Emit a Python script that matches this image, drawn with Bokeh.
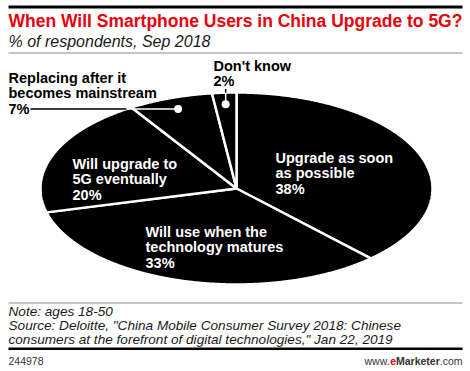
import numpy as np
from bokeh.plotting import figure
from bokeh.models import Range1d
from bokeh.core.properties import value
from bokeh.embed import file_html
from bokeh.resources import INLINE

# ---- data ----
categories = ["Upgrade as soon as possible", "Will use when the technology matures",
              "Will upgrade to 5G eventually", "Replacing after it becomes mainstream",
              "Don't know"]
values = [38, 33, 20, 7, 2]
label_lines = [["Upgrade as soon", "as possible"],
               ["Will use when the", "technology matures"],
               ["Will upgrade to", "5G eventually"],
               ["Replacing after it", "becomes mainstream"],
               ["Don't know"]]

title = "When Will Smartphone Users in China Upgrade to 5G?"
subtitle = "% of respondents, Sep 2018"
notes = ["Note: ages 18-50",
         "Source: Deloitte, \"China Mobile Consumer Survey 2018: Chinese",
         "consumers at the forefront of digital technologies,\" Jan 22, 2019"]
chart_id = "244978"

# ---- layout (pixel-like data space, y down) ----
W, H = 470, 371
L, R = 8, 462
cx, cy, rx, ry = 236, 188, 196, 96
# left x, first-line center y for each label
label_pos = [(275, 157), (145, 231), (72, 163), (8, 77), (213, 65)]
label_inside = [True, True, True, False, False]
LH = 15.5
LSIZE = 14.5
FONT = value("Liberation Sans")

p = figure(width=W, height=H, output_backend="svg", toolbar_location=None,
           x_range=Range1d(0, W), y_range=Range1d(H, 0),
           min_border=0, outline_line_color=None)
p.axis.visible = False
p.grid.visible = False
p.background_fill_color = "white"
p.border_fill_color = "white"

# ---- pie (ellipse) ----
total = sum(values)
cum = np.concatenate([[0], np.cumsum(values)]) / total
xs, ys, mids = [], [], []
for i in range(len(values)):
    a0, a1 = cum[i] * 2 * np.pi, cum[i + 1] * 2 * np.pi
    t = np.linspace(a0, a1, max(8, int(200 * (a1 - a0))))
    xs.append(list(np.concatenate([[cx], cx + rx * np.sin(t)])))
    ys.append(list(np.concatenate([[cy], cy - ry * np.cos(t)])))
    mids.append((a0 + a1) / 2)
p.patches(xs, ys, fill_color="black", line_color="white", line_width=2.5)

def txt(x, y, s, size, color="black", style="bold", align="left"):
    p.text(x=[x], y=[y], text=[s], text_font=FONT, text_font_size=f"{size}px",
           text_font_style=style, text_color=color, text_align=align,
           text_baseline="middle")

# labels
for i, cat in enumerate(categories):
    lx, ly = label_pos[i]
    col = "white" if label_inside[i] else "black"
    lines = label_lines[i] + [f"{values[i]}%"]
    for k, s in enumerate(lines):
        txt(lx, ly + k * LH, s, LSIZE, col)

# leaders for small outside slices
r_dot = 0.88
# 7% : horizontal leader
i = 3
dx, dy = cx + rx * r_dot * np.sin(mids[i]), cy - ry * r_dot * np.cos(mids[i])
edge_x = cx - rx * np.sqrt(1 - ((dy - cy) / ry) ** 2)
p.line([30, edge_x], [dy, dy], line_color="black", line_width=1.5)
p.line([edge_x, dx], [dy, dy], line_color="white", line_width=1.5)
p.scatter([dx], [dy], size=8, fill_color="white", line_color=None)
# 2% : vertical leader
i = 4
dx, dy = cx + rx * r_dot * np.sin(mids[i]), cy - ry * r_dot * np.cos(mids[i])
edge_y = cy - ry * np.sqrt(1 - ((dx - cx) / rx) ** 2)
top_y = label_pos[i][1] + LH + 8
p.line([dx, dx], [top_y, edge_y], line_color="black", line_width=1.5)
p.line([dx, dx], [edge_y, dy], line_color="white", line_width=1.5)
p.scatter([dx], [dy], size=8, fill_color="white", line_color=None)

# ---- header ----
p.quad(left=[L], right=[R], top=[5], bottom=[8], fill_color="black", line_color=None)
txt(L, 20, title, 17.5, "#e8000b", "bold")
txt(L, 41, subtitle, 16, "#1a1a1a", "italic")
p.line([L, R], [52.5, 52.5], line_color="#8c8c8c", line_width=1)

# ---- footer ----
p.line([L, R], [302.5, 302.5], line_color="#8c8c8c", line_width=1)
for k, s in enumerate(notes):
    txt(L, 311 + k * 14, s, 13.6, "#1a1a1a", "italic")
p.quad(left=[L], right=[R], top=[347], bottom=[349.5], fill_color="black", line_color=None)
FS = 10.5
txt(L, 360, chart_id, FS, "#333333", "normal")
# brand, pieces laid out right-to-left with Arial-compatible advance widths
pieces = [("www.", "normal", "#333333", 2.444),
          ("e", "bold", "#e8000b", 0.556),
          ("Marketer", "bold", "#333333", 4.168),
          (".com", "normal", "#333333", 2.167)]
x_end = R
for s, style, col, em in reversed(pieces):
    x_start = x_end - em * FS
    txt(x_start, 360, s, FS, col, style)
    x_end = x_start

open("out.html", "w").write(file_html(p, INLINE))
